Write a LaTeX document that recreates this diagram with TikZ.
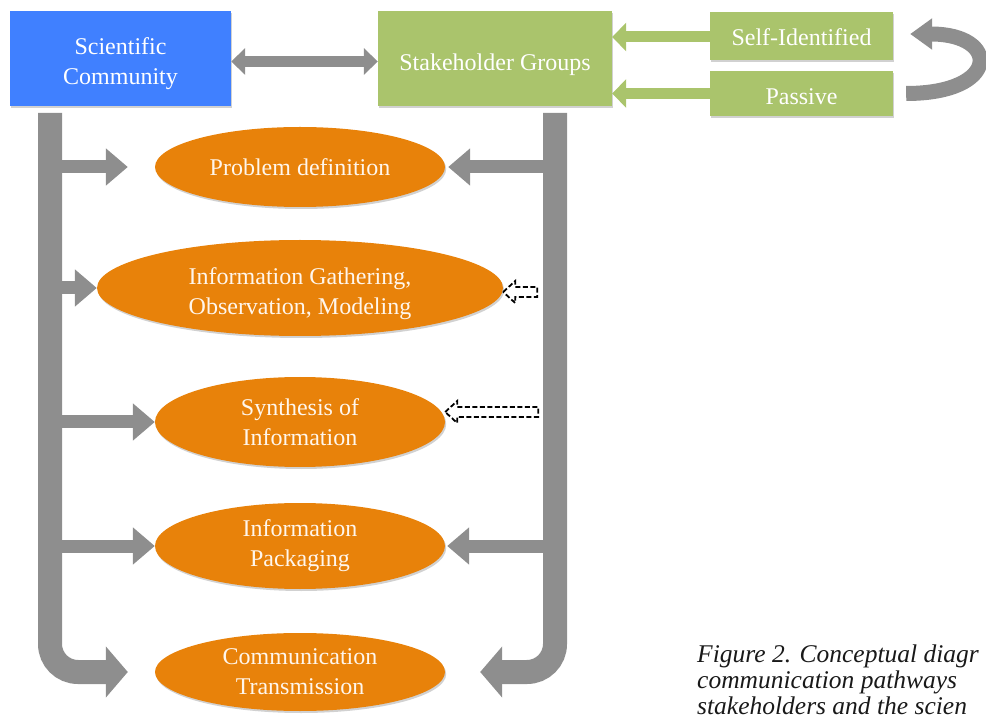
\documentclass[tikz,border=0pt]{standalone}
\usepackage{fontspec}
\setmainfont{Liberation Serif}
\usetikzlibrary{arrows.meta,shapes.geometric,calc,shadows}

\definecolor{sciblue}{RGB}{64,128,255}
\definecolor{stgreen}{RGB}{170,196,108}
\definecolor{procorange}{RGB}{232,130,10}
\definecolor{flowgray}{RGB}{142,142,142}
\definecolor{labelcream}{RGB}{255,246,236}
\definecolor{captionink}{RGB}{25,25,25}

% centred lines, drawn a little lower than their box says
\newcommand{\shiftedlabel}[2]{\raisebox{-#1}[\height][\depth]{\begin{tabular}{@{}c@{}}#2\end{tabular}}}

\begin{document}
\begin{tikzpicture}[x=1pt,y=-1pt,
  softshadow/.style={drop shadow={shadow xshift=1.2pt,shadow yshift=-2pt,opacity=0.18,fill=black}},
  boxtext/.style={font=\fontsize{24}{30}\selectfont, text=white, inner sep=0pt},
  groupbox/.style={boxtext, rectangle, draw=none, softshadow},
  stage/.style={ellipse, fill=procorange, draw=none, inner sep=0pt, softshadow,
    font=\fontsize{24}{30}\selectfont, text=labelcream, align=center},
  bar/.style={draw=flowgray, line width=24pt, rounded corners=28pt,
    -{Triangle[length=22pt,width=50pt]}},
  side/.style={draw=flowgray, line width=13pt, -{Triangle[length=22pt,width=36pt]}},
  link/.style={draw=flowgray, line width=11pt,
    {Triangle[length=14pt,width=26pt]}-{Triangle[length=14pt,width=26pt]}},
  feed/.style={draw=stgreen, line width=11pt, -{Triangle[length=14pt,width=28pt]}},
  loopback/.style={draw=flowgray, line width=15pt, -{Triangle[length=22pt,width=30pt]}},
  hollow/.style={draw=black, fill=white, line width=1.8pt, dash pattern=on 5pt off 2.5pt,
    line join=miter}
]
\useasboundingbox (0,0) rectangle (986,719);

% top row: the two communities and the stakeholder kinds
\node[groupbox, fill=sciblue, minimum width=221pt, minimum height=95pt] (sci) at (120.5,58.5)
  {\shiftedlabel{5.5pt}{Scientific\\Community}};
\node[groupbox, fill=stgreen, minimum width=234pt, minimum height=95pt] (stake) at (495,58.5)
  {\shiftedlabel{6pt}{Stakeholder Groups}};
\node[groupbox, fill=stgreen, minimum width=183pt, minimum height=48pt] (self) at (801.5,36)
  {\shiftedlabel{3.5pt}{Self-Identified}};
\node[groupbox, fill=stgreen, minimum width=183pt, minimum height=45pt] (pass) at (801.5,93.5)
  {\shiftedlabel{5pt}{Passive}};

% stages of the process
\node[stage, minimum width=290pt, minimum height=80pt] (pd) at (300,167) {Problem definition};
\node[stage, minimum width=406pt, minimum height=96pt] (ig) at (300,288)
  {\shiftedlabel{6pt}{Information Gathering,\\Observation, Modeling}};
\node[stage, minimum width=290pt, minimum height=90pt] (syn) at (300,422) {Synthesis of\\Information};
\node[stage, minimum width=290pt, minimum height=86pt] (pack) at (300,546) {Information\\Packaging};
\node[stage, minimum width=290pt, minimum height=78pt] (comm) at (300,672) {Communication\\Transmission};

% links in the top row
\draw[link] ([yshift=-3pt]sci.east) -- ([yshift=-3pt]stake.west);
\draw[feed] ([yshift=-1pt]self.west) -- ([yshift=-1pt]self.west -| stake.east);
\draw[feed] (pass.west) -- (pass.west -| stake.east);
\draw[loopback] ([xshift=13pt]pass.east) .. controls +(94,0) and +(90,0) .. ([xshift=17pt,yshift=2pt]self.east);

% feeder bars below the two communities
\coordinate (ltop) at (50,113);
\coordinate (rtop) at (555,113);

\draw[side] (ltop |- pd) -- ([xshift=-27pt]pd.west);
\draw[side] (ltop |- ig) -- (ig.west);
\draw[side] (ltop |- syn) -- (syn.west);
\draw[side] (ltop |- pack) -- (pack.west);
\draw[side] (rtop |- pd) -- ([xshift=3pt]pd.east);
\draw[side] (rtop |- pack) -- ([xshift=2pt]pack.east);

\draw[bar] (ltop) |- ([xshift=-27pt]comm.west);
\draw[bar] (rtop) |- ([xshift=35pt]comm.east);

% dashed hollow arrows from the stakeholder side
\draw[hollow] ([yshift=-4pt]ig.east) -- ++(12,-11) -- ++(0,6) -- ++(22,0) -- ++(0,10)
  -- ++(-22,0) -- ++(0,6) -- cycle;
\draw[hollow] ([yshift=10pt]syn.east) -- ++(12,-11) -- ++(0,6) -- ++(81,0) -- ++(0,10)
  -- ++(-81,0) -- ++(0,6) -- cycle;

% caption
\node[anchor=north west, align=left, inner sep=0pt, text=captionink,
  font=\itshape\fontsize{25.5}{26}\selectfont] (cap) at (697,645)
  {Figure 2. Conceptual diagr\\communication pathways\\stakeholders and the scien};
\end{tikzpicture}
\end{document}
